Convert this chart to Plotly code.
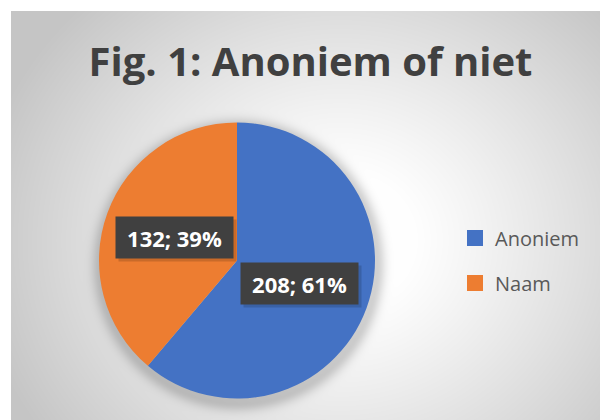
import base64, struct, zlib
import numpy as np
import plotly.graph_objects as go

# ---- data ----
categories = ["Anoniem", "Naam"]
values = [208, 132]
percent_labels = ["61%", "39%"]
colors = ["#4472C4", "#ED7D31"]
title_text = "Fig. 1: Anoniem of niet"

W, H = 600, 420
# pie geometry (pixels)
PCX, PCY, PR = 237, 260.5, 138

# ---- background image (gradient + pie shadow) ----
def png_uri(arr):
    h, w, _ = arr.shape
    raw = b"".join(b"\x00" + arr[i].tobytes() for i in range(h))
    def chunk(t, d):
        c = struct.pack(">I", len(d)) + t + d
        return c + struct.pack(">I", zlib.crc32(t + d) & 0xffffffff)
    png = b"\x89PNG\r\n\x1a\n" + chunk(b"IHDR", struct.pack(">IIBBBBB", w, h, 8, 2, 0, 0, 0)) \
        + chunk(b"IDAT", zlib.compress(raw, 9)) + chunk(b"IEND", b"")
    return "data:image/png;base64," + base64.b64encode(png).decode()

Y, X = np.mgrid[0:H, 0:W].astype(float)
d = np.sqrt((X - 340) ** 2 + ((Y - 240) / 0.9) ** 2)
v = 255 - 58 * np.clip((d - 70) / 300, 0, 1) ** 1.1
ds = np.sqrt((X - PCX - 1) ** 2 + (Y - PCY - 4) ** 2) - PR
sh = 0.18 * np.exp(-(np.clip(ds, 0, None) / 9) ** 2)
v = v * (1 - sh)
v[:11, :] = 255
v[:, :11] = 255
img = np.repeat(np.clip(v, 0, 255).astype(np.uint8)[:, :, None], 3, axis=2)

fig = go.Figure()

dom_x = [(PCX - PR) / W, (PCX + PR) / W]
dom_y = [1 - (PCY + PR) / H, 1 - (PCY - PR) / H]
fig.add_trace(go.Pie(
    labels=categories, values=values, sort=False, direction="clockwise", rotation=0,
    marker=dict(colors=colors, line=dict(width=0)), textinfo="none",
    domain=dict(x=dom_x, y=dom_y), showlegend=False, hoverinfo="label+value+percent",
))

# legend via dummy scatter traces
for i, (c, col) in enumerate(zip(categories, colors)):
    fig.add_trace(go.Scatter(x=[None], y=[None], mode="markers", name=c, legendgroup=c,
                             marker=dict(symbol="square", size=16, color=col)))

# data labels
total = sum(values)
cum = 0
for val, pct, col in zip(values, percent_labels, colors):
    mid = (cum + val / 2) / total * 2 * np.pi
    cum += val
    lx = PCX + 0.48 * PR * np.sin(mid)
    ly = PCY - 0.48 * PR * np.cos(mid)
    for shadow in (True, False):
        off = 3 if shadow else 0
        fig.add_annotation(
            x=(lx + off) / W, y=1 - (ly + off) / H, xref="paper", yref="paper",
            xanchor="center", yanchor="middle",
            text=f"<b>{val}; {pct}</b>" if not shadow else " ",
            showarrow=False, width=103, height=27, borderpad=7,
            bgcolor="rgba(0,0,0,0.15)" if shadow else "#404040",
            font=dict(family="Open Sans", size=22, color="white"),
        )

fig.update_layout(
    width=W, height=H, margin=dict(l=0, r=0, t=0, b=0, autoexpand=False),
    paper_bgcolor="white", plot_bgcolor="rgba(0,0,0,0)",
    images=[dict(source=png_uri(img), xref="paper", yref="paper", x=0, y=1,
                 sizex=1, sizey=1, sizing="stretch", xanchor="left", yanchor="top", layer="below")],
    xaxis=dict(range=[0, 1], visible=False, fixedrange=True),
    yaxis=dict(range=[0, 1], visible=False, fixedrange=True),
    title=dict(text=f"<b>{title_text}</b>", x=310.5 / W, xanchor="center", y=1 - 62 / H, yanchor="middle",
               font=dict(family="Open Sans", size=40, color="#404040")),
    legend=dict(x=455 / W, y=1 - 260.5 / H, xanchor="left", yanchor="middle",
                font=dict(family="Open Sans", size=20, color="#595959"),
                bgcolor="rgba(0,0,0,0)", tracegroupgap=16, itemwidth=30),
    showlegend=True,
)
fig.write_html("out.html", config={"displayModeBar": False},
               post_script="document.body.style.margin='0';")
